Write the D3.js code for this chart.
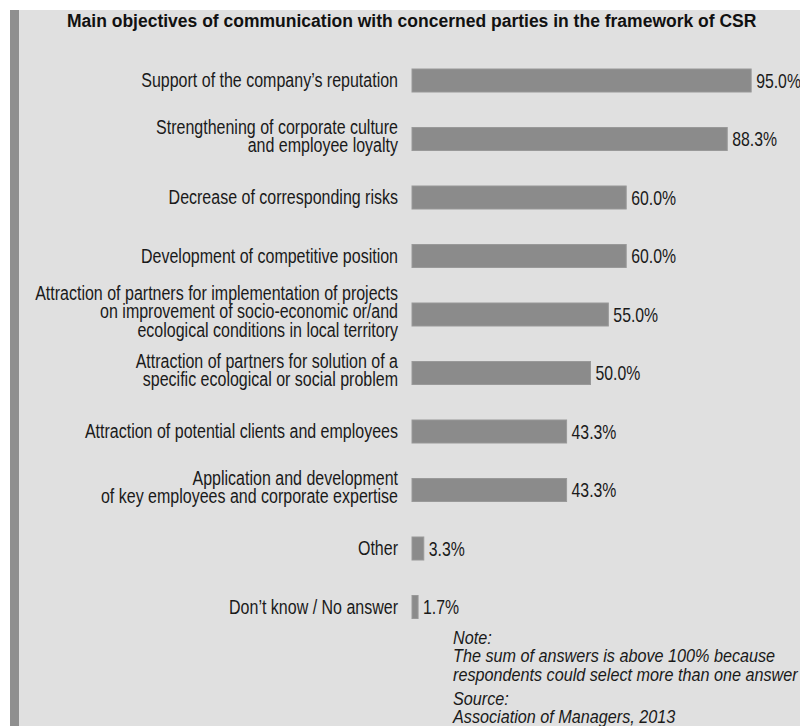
<!DOCTYPE html>
<html>
<head>
<meta charset="utf-8">
<script src="https://cdn.jsdelivr.net/npm/d3@7"></script>
<style>
  body { margin: 0; background: #fff; }
  svg { display: block; font-family: "Liberation Sans", Arial, sans-serif; }
</style>
</head>
<body>
<svg id="chart" width="800" height="726"></svg>
<script>
var title = 'Main objectives of communication with concerned parties in the framework of CSR'

var categories = [
  ['Support of the company\u2019s reputation'],
  ['Strengthening of corporate culture', 'and employee loyalty'],
  ['Decrease of corresponding risks'],
  ['Development of competitive position'],
  ['Attraction of partners for implementation of projects', 'on improvement of socio-economic or/and', 'ecological conditions in local territory'],
  ['Attraction of partners for solution of a', 'specific ecological or social problem'],
  ['Attraction of potential clients and employees'],
  ['Application and development', 'of key employees and corporate expertise'],
  ['Other'],
  ['Don\u2019t know / No answer']
]

var values = [95.0, 88.3, 60.0, 60.0, 55.0, 50.0, 43.3, 43.3, 3.3, 1.7]

var noteLines = ['Note:', 'The sum of answers is above 100% because', 'respondents could select more than one answer']
var sourceLines = ['Source:', 'Association of Managers, 2013']

var svg = d3.select('#chart')

// panel background with dark stripe on the left
svg.append('rect')
    .attr('x', 10).attr('y', 10)
    .attr('width', 790).attr('height', 716)
    .attr('fill', '#e0e0e0')

svg.append('rect')
    .attr('x', 10).attr('y', 10)
    .attr('width', 9).attr('height', 716)
    .attr('fill', '#8f8f8f')

svg.append('text')
    .attr('x', 67).attr('y', 27)
    .attr('font-size', 17.5)
    .attr('font-weight', 'bold')
    .attr('fill', '#111')
    .text(title)

var x = d3.scaleLinear()
    .domain([0, 100])
    .range([412, 769])

var y = d3.scaleBand()
    .domain(d3.range(categories.length))
    .range([51.25, 636.25])
    .paddingInner(0.607)
    .paddingOuter(0.3035)

var rows = svg.append('g').attr('class', 'rows')
    .selectAll('g')
    .data(values)
    .join('g')

rows.append('rect')
    .attr('x', x(0))
    .attr('y', function (d, i) { return y(i) })
    .attr('width', function (d) { return x(d) - x(0) })
    .attr('height', y.bandwidth())
    .attr('fill', '#8b8b8b')
    .attr('stroke', '#999')
    .attr('stroke-width', 1)

rows.append('text')
    .attr('transform', function (d, i) {
      return 'translate(' + (x(d) + 5) + ',' + (y(i) + y.bandwidth() / 2 + 7) + ') scale(0.79,1)'
    })
    .attr('font-size', 20)
    .attr('fill', '#1a1a1a')
    .text(function (d) { return d.toFixed(1) + '%' })

// category labels, right aligned against the bars
rows.append('text')
    .attr('transform', function (d, i) {
      var lines = categories[i]
      var cy = y(i) + y.bandwidth() / 2
      var base = lines.length === 1 ? cy + 6.5 : cy + 4 - (lines.length - 1) / 2 * 18.7
      return 'translate(398,' + base + ') scale(0.8,1)'
    })
    .attr('font-size', 20)
    .attr('text-anchor', 'end')
    .attr('fill', '#1a1a1a')
    .each(function (d, i) {
      d3.select(this).selectAll('tspan')
          .data(categories[i])
          .join('tspan')
          .attr('x', 0)
          .attr('dy', function (l, k) { return k ? 18.7 : 0 })
          .text(function (l) { return l })
    })

function noteBlock (lines, top) {
  svg.append('text')
      .attr('transform', 'translate(453,' + top + ') scale(0.9,1)')
      .attr('font-size', 18)
      .attr('font-style', 'italic')
      .attr('fill', '#1a1a1a')
      .selectAll('tspan')
      .data(lines)
      .join('tspan')
      .attr('x', 0)
      .attr('dy', function (l, k) { return k ? 18.5 : 0 })
      .text(function (l) { return l })
}

noteBlock(noteLines, 644)
noteBlock(sourceLines, 705)
</script>
</body>
</html>
